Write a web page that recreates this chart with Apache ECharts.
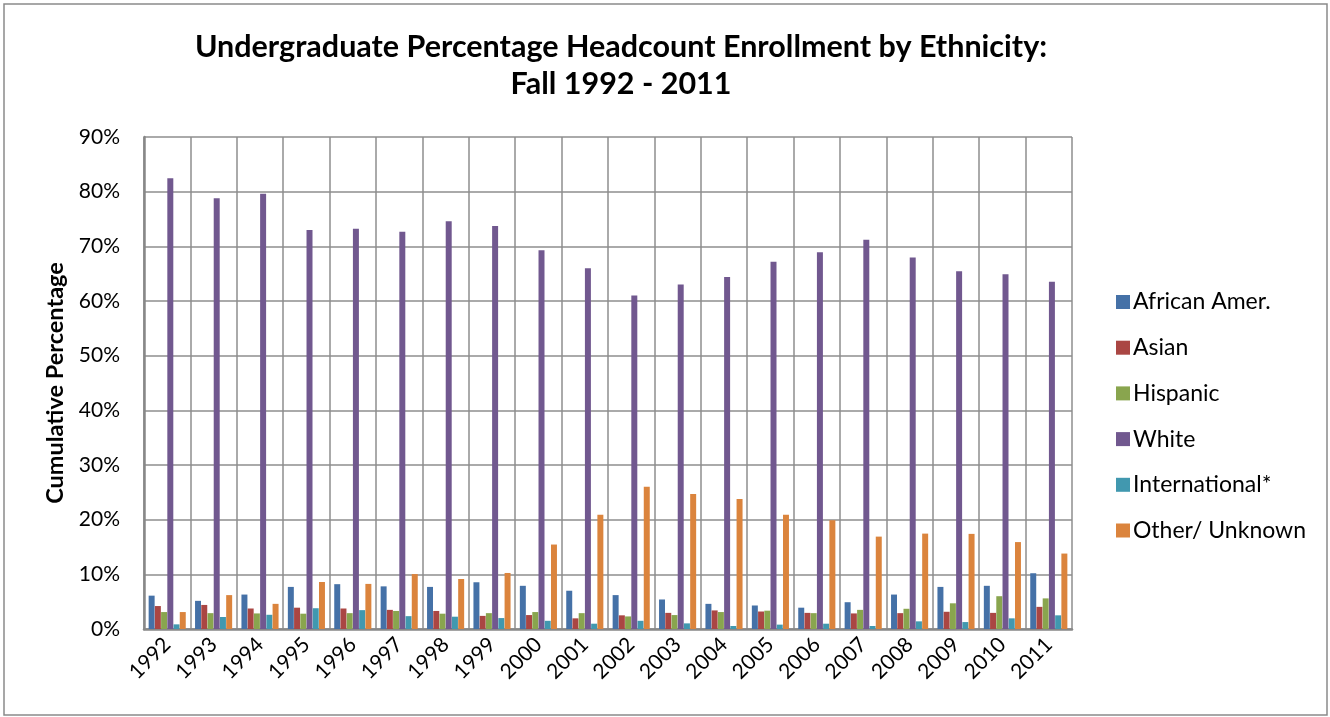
<!DOCTYPE html>
<html>
<head>
<meta charset="utf-8">
<script src="https://cdn.jsdelivr.net/npm/echarts@6/dist/echarts.min.js"></script>
<style>html,body{margin:0;padding:0;background:#fff;}#c{width:1330px;height:717px;}</style>
</head>
<body>
<div id="c"></div>
<script>
const categories = ['1992','1993','1994','1995','1996','1997','1998','1999','2000','2001','2002','2003','2004','2005','2006','2007','2008','2009','2010','2011'];
const yTicks = [0,10,20,30,40,50,60,70,80,90];
const africanAmer = [6.1,5.15,6.3,7.7,8.2,7.8,7.7,8.55,7.9,7.0,6.2,5.4,4.6,4.3,3.9,4.9,6.3,7.7,7.9,10.2];
const asian = [4.2,4.4,3.75,3.9,3.75,3.5,3.3,2.4,2.55,1.95,2.5,2.95,3.4,3.2,2.95,2.85,2.9,3.15,2.95,4.05];
const hispanic = [3.1,2.9,2.85,2.8,2.9,3.3,2.8,2.9,3.1,2.9,2.3,2.55,3.1,3.35,2.9,3.5,3.7,4.7,6.0,5.6];
const white = [82.45,78.8,79.6,73.0,73.2,72.65,74.6,73.7,69.3,66.0,61.0,63.0,64.4,67.2,68.9,71.2,67.95,65.45,64.9,63.5];
const international = [0.85,2.2,2.6,3.8,3.45,2.35,2.25,2.0,1.5,0.97,1.5,1.03,0.55,0.8,0.97,0.55,1.4,1.27,1.95,2.5];
const otherUnknown = [3.1,6.2,4.6,8.6,8.25,10.05,9.15,10.25,15.45,20.9,26.0,24.7,23.8,20.9,19.9,16.9,17.45,17.4,15.9,13.8];

const seriesNames = ['African Amer.','Asian','Hispanic','White','International*','Other/ Unknown'];
const seriesData = [africanAmer, asian, hispanic, white, international, otherUnknown];
const colors = ['#4571A7','#AA4643','#89A54E','#71588F','#4198AF','#DB843D'];

const chart = echarts.init(document.getElementById('c'), null, {renderer:'canvas'});
const font = 'Lato, "Open Sans", sans-serif';
chart.setOption({
  animation: false,
  color: colors,
  textStyle: {fontFamily: font},
  title: {
    text: 'Undergraduate Percentage Headcount Enrollment by Ethnicity:\nFall 1992 - 2011',
    left: 616, top: 24, textAlign: 'center',
    textStyle: {fontFamily: font, fontWeight: 'bold', fontSize: 30.5, lineHeight: 37, color: '#000'}
  },
  graphic: [{
    type: 'rect', shape: {x: 4, y: 4, width: 1323, height: 711},
    style: {fill: 'none', stroke: '#8a8a8a', lineWidth: 1.5}, silent: true, z: -1
  }],
  legend: {
    orient: 'vertical', left: 1111, top: 285,
    itemWidth: 14, itemHeight: 14, itemGap: 21.7,
    icon: 'rect',
    textStyle: {fontFamily: font, fontSize: 23, lineHeight: 24, color: '#000', padding: [0,0,0,-2]},
    data: seriesNames
  },
  grid: {left: 144, right: 258, top: 137, bottom: 88, containLabel: false},
  xAxis: {
    type: 'category', data: categories,
    axisLine: {show: true, lineStyle: {color: '#888', width: 2.5}},
    axisTick: {show: false},
    splitLine: {show: true, lineStyle: {color: '#8e8e8e', width: 1.5}},
    axisLabel: {rotate: 45, fontSize: 21, color: '#000', margin: 12, fontFamily: font, interval: 0}
  },
  yAxis: {
    type: 'value', min: 0, max: 90, interval: 10,
    name: 'Cumulative Percentage', nameLocation: 'middle', nameGap: 77, nameRotate: 90,
    nameTextStyle: {fontFamily: font, fontWeight: 'bold', fontSize: 23.5, color: '#000'},
    axisLine: {show: true, lineStyle: {color: '#888', width: 2.5}},
    axisTick: {show: false},
    splitLine: {show: true, lineStyle: {color: '#8e8e8e', width: 1.5}},
    axisLabel: {formatter: v => yTicks.includes(v) ? v + '%' : '', fontSize: 21, color: '#000', margin: 24, fontFamily: font}
  },
  series: seriesNames.map((n, i) => ({
    name: n, type: 'bar', data: seriesData[i],
    barGap: '4%', barCategoryGap: '20%',
    itemStyle: {color: colors[i]}
  }))
});
</script>
</body>
</html>
